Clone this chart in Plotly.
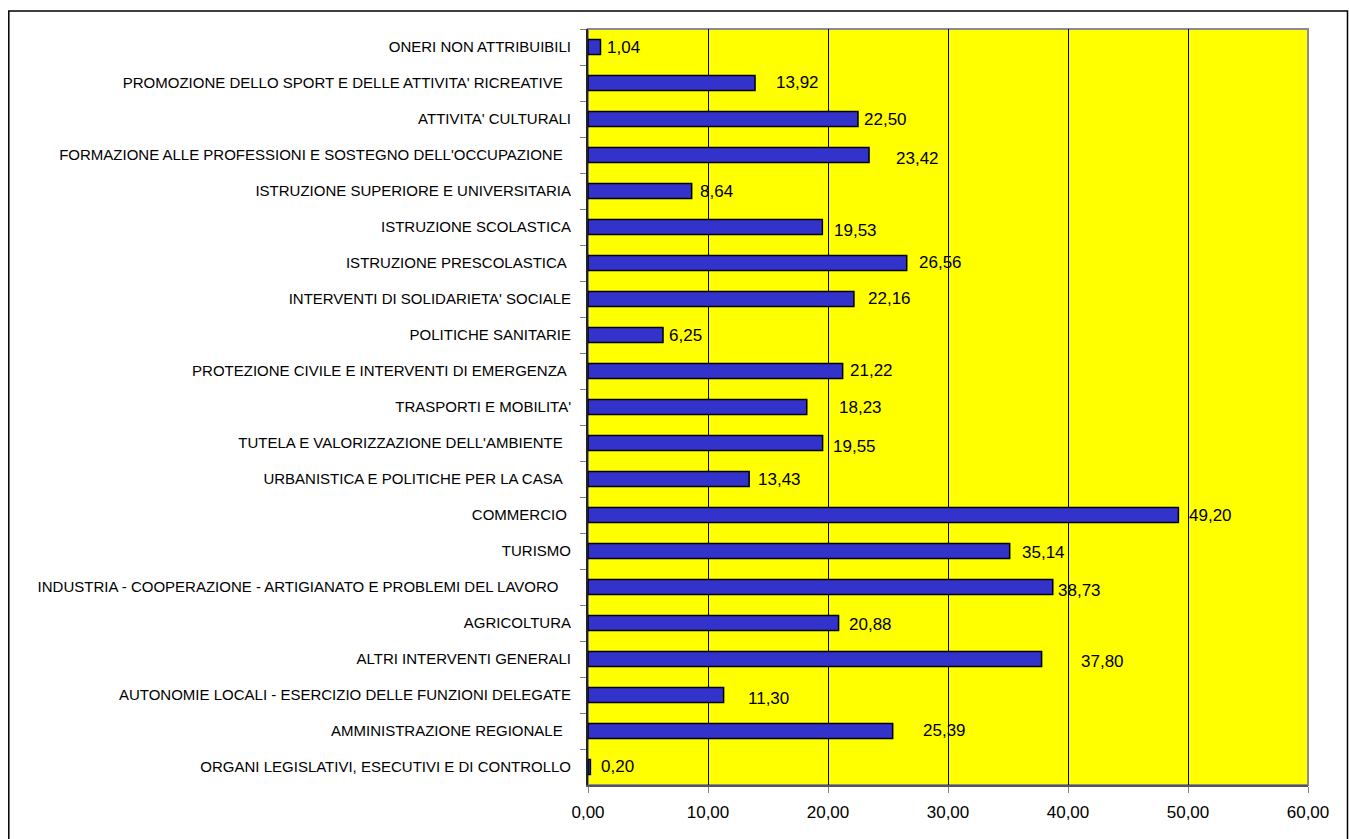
import plotly.graph_objects as go

# ---- data (top to bottom as in the reference) ----
categories = [
    "ONERI NON ATTRIBUIBILI",
    "PROMOZIONE DELLO SPORT E DELLE ATTIVITA' RICREATIVE\u00a0\u00a0",
    "ATTIVITA' CULTURALI",
    "FORMAZIONE ALLE PROFESSIONI E SOSTEGNO DELL'OCCUPAZIONE\u00a0\u00a0",
    "ISTRUZIONE SUPERIORE E UNIVERSITARIA",
    "ISTRUZIONE SCOLASTICA",
    "ISTRUZIONE PRESCOLASTICA\u00a0",
    "INTERVENTI DI SOLIDARIETA' SOCIALE",
    "POLITICHE SANITARIE",
    "PROTEZIONE CIVILE E INTERVENTI DI EMERGENZA\u00a0",
    "TRASPORTI E MOBILITA'",
    "TUTELA E VALORIZZAZIONE DELL'AMBIENTE\u00a0\u00a0",
    "URBANISTICA E POLITICHE PER LA CASA\u00a0\u00a0",
    "COMMERCIO\u00a0",
    "TURISMO",
    "INDUSTRIA - COOPERAZIONE - ARTIGIANATO E PROBLEMI DEL LAVORO\u00a0\u00a0\u00a0",
    "AGRICOLTURA",
    "ALTRI INTERVENTI GENERALI",
    "AUTONOMIE LOCALI - ESERCIZIO DELLE FUNZIONI DELEGATE",
    "AMMINISTRAZIONE REGIONALE\u00a0\u00a0",
    "ORGANI LEGISLATIVI, ESECUTIVI E DI CONTROLLO",
]
values = [1.04, 13.92, 22.50, 23.42, 8.64, 19.53, 26.56, 22.16, 6.25, 21.22,
          18.23, 19.55, 13.43, 49.20, 35.14, 38.73, 20.88, 37.80, 11.30, 25.39, 0.20]
x_ticks = [0, 10, 20, 30, 40, 50, 60]

# label offsets (px) replicating the reference's irregular placement
label_dx = [5, 19, 4, 25, 6, 10, 10, 12, 4, 5, 30, 8, 7, 9, 10, 3, 8, 37, 22, 28, 9]
label_dy = [0, -1, 0, 3, 0, 3, -1, -1, 0, -1, 0, 3, 0, 0, 1, 3, 1, 2, 3, -1, -1]

FONT = "Liberation Sans, Arial, sans-serif"

fig = go.Figure()
fig.add_trace(go.Bar(
    x=values, y=categories, orientation="h",
    marker=dict(color="#3333CC", line=dict(color="#000000", width=1.5)),
    hoverinfo="skip",
))

annotations = []
for c, v, dx, dy in zip(categories, values, label_dx, label_dy):
    annotations.append(dict(
        x=v, y=c, xref="x", yref="y", xanchor="left", yanchor="middle",
        text=f"{v:.2f}".replace(".", ","), showarrow=False,
        xshift=dx, yshift=-dy,
        font=dict(family=FONT, size=17, color="#000000"),
    ))

W, H = 1349, 839
L, R, T, B = 588, 41, 29, 54
pw, ph = W - L - R, H - T - B

def px_x(p):
    return (p - L) / pw

def px_y(p):
    return (H - B - p) / ph

shapes = [
    # plot-area border (grey)
    dict(type="rect", xref="paper", yref="paper", x0=0, y0=0, x1=1, y1=1,
         line=dict(color="#8C8C8C", width=2), layer="below"),
    # outer chart border
    dict(type="rect", xref="paper", yref="paper",
         x0=px_x(8.8), x1=px_x(1347.5), y0=px_y(11), y1=px_y(850),
         line=dict(color="#000000", width=1.5), layer="above"),
]

fig.update_layout(
    width=W, height=H, autosize=False,
    margin=dict(l=L, r=R, t=T, b=B, pad=0),
    paper_bgcolor="#FFFFFF", plot_bgcolor="#FFFF00",
    separators=",.",
    bargap=0.58,
    showlegend=False,
    annotations=annotations,
    shapes=shapes,
    font=dict(family=FONT, color="#000000"),
)
fig.update_xaxes(
    range=[0, 60], tickvals=x_ticks, tickformat=".2f",
    showgrid=True, gridcolor="#000000", gridwidth=1, zeroline=False,
    showline=True, linecolor="#555555", linewidth=2,
    ticks="outside", ticklen=6, tickcolor="#808080", tickwidth=1,
    ticklabelstandoff=5,
    tickfont=dict(family=FONT, size=17, color="#000000"),
    fixedrange=True,
)
fig.update_yaxes(
    autorange="reversed", type="category",
    showgrid=False, zeroline=False,
    showline=True, linecolor="#222222", linewidth=2,
    ticks="outside", ticklen=6, tickcolor="#808080", tickwidth=1,
    tickson="boundaries", ticklabelstandoff=12,
    tickfont=dict(family=FONT, size=15, color="#000000"),
    fixedrange=True,
)

fig.write_html(
    "out.html",
    config={"displayModeBar": False},
    post_script="document.body.style.margin='0';document.body.style.overflow='hidden';",
)
